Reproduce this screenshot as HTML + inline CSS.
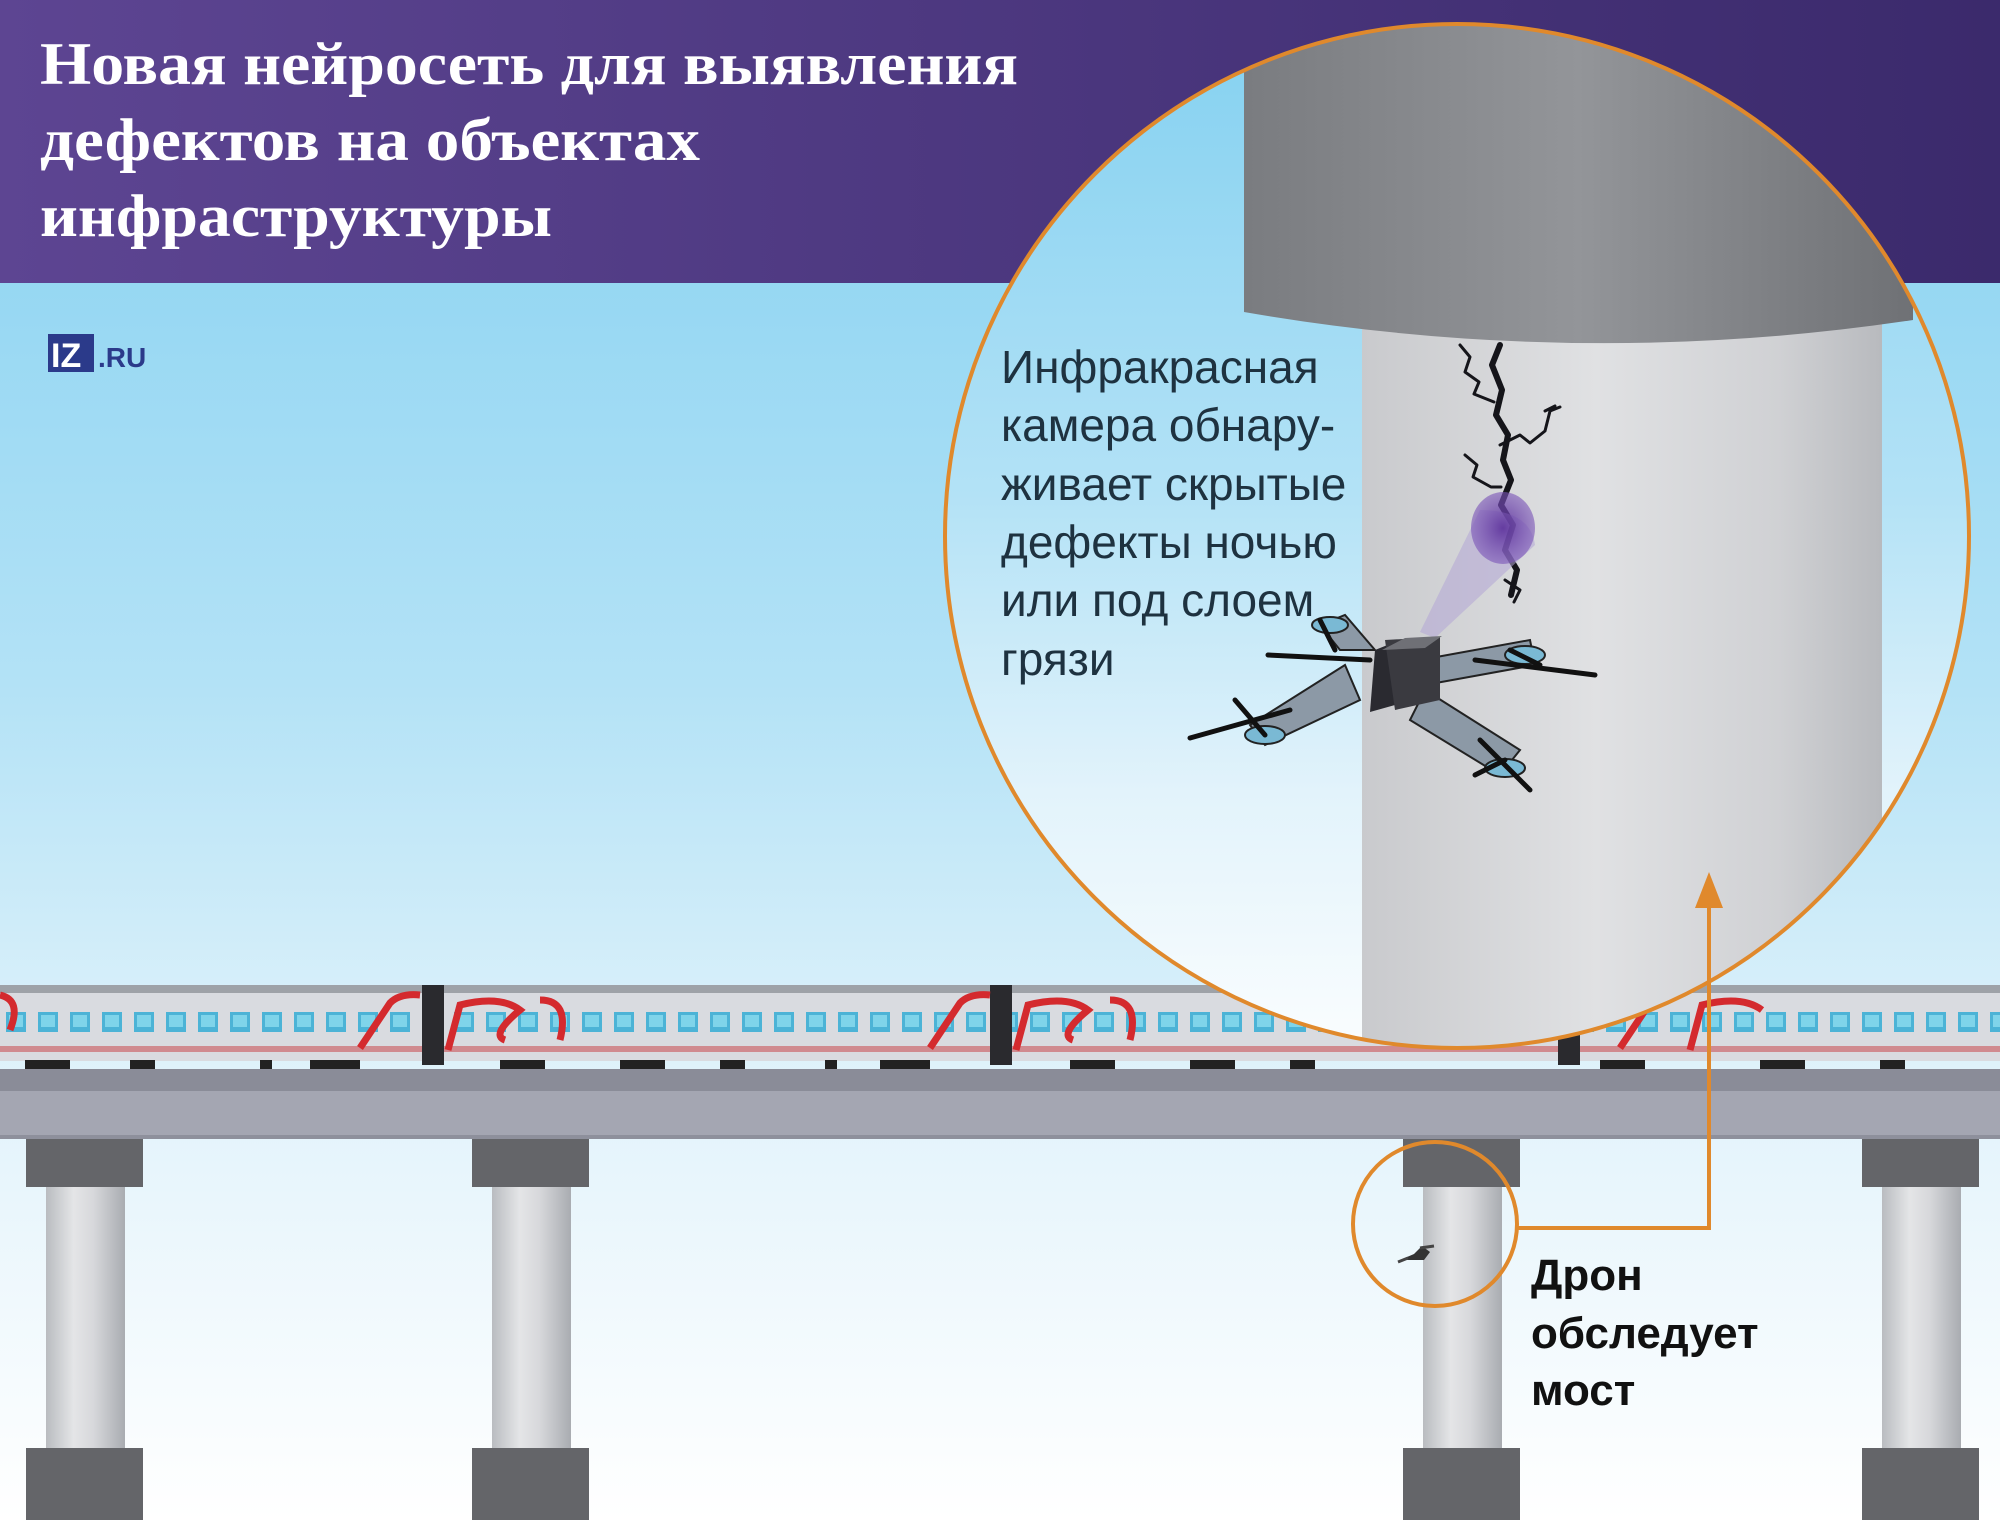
<!DOCTYPE html>
<html><head><meta charset="utf-8"><style>
html,body{margin:0;padding:0;width:2000px;height:1520px;overflow:hidden}
svg{display:block}
</style></head><body>
<svg width="2000" height="1520" viewBox="0 0 2000 1520" xmlns="http://www.w3.org/2000/svg">
<defs>
<linearGradient id="sky" x1="0" y1="0" x2="0" y2="1">
<stop offset="0" stop-color="#82d0f0"/><stop offset="0.45" stop-color="#b3e2f6"/><stop offset="0.72" stop-color="#e2f3fb"/><stop offset="1" stop-color="#ffffff"/></linearGradient>
<linearGradient id="hdr" x1="0" y1="0" x2="1" y2="0">
<stop offset="0" stop-color="#5d4592"/><stop offset="1" stop-color="#3b2a6c"/></linearGradient>
<linearGradient id="col" x1="0" y1="0" x2="1" y2="0">
<stop offset="0" stop-color="#b9bcc0"/><stop offset="0.35" stop-color="#e4e5e7"/><stop offset="0.6" stop-color="#d7d8db"/><stop offset="1" stop-color="#a9acb1"/></linearGradient>
<linearGradient id="bigcol" x1="0" y1="0" x2="1" y2="0">
<stop offset="0" stop-color="#c9cacd"/><stop offset="0.45" stop-color="#e0e1e3"/><stop offset="0.8" stop-color="#d0d1d4"/><stop offset="1" stop-color="#b8babe"/></linearGradient>
<linearGradient id="cap" x1="0" y1="0" x2="1" y2="0">
<stop offset="0" stop-color="#7a7c80"/><stop offset="0.5" stop-color="#939599"/><stop offset="1" stop-color="#6f7175"/></linearGradient>
<radialGradient id="beam" cx="0.5" cy="0.5" r="0.5"><stop offset="0" stop-color="#5a2e9a" stop-opacity="0.9"/><stop offset="1" stop-color="#7b55b8" stop-opacity="0.6"/></radialGradient>
<clipPath id="bigc"><circle cx="1457" cy="536" r="512"/></clipPath>
<clipPath id="smc"><circle cx="1435" cy="1224" r="82"/></clipPath>
<pattern id="win" x="0" y="1008" width="32" height="30" patternUnits="userSpaceOnUse">
<rect x="6" y="4" width="20" height="20" fill="#4cb3d6"/><rect x="9" y="7" width="14" height="12" fill="#7fd4ea"/></pattern>
</defs>

<rect width="2000" height="1520" fill="url(#sky)"/>
<rect width="2000" height="283" fill="url(#hdr)"/>
<g font-family="'Liberation Serif','DejaVu Serif',serif" font-weight="bold" font-size="60" fill="#ffffff">
<text x="40" y="84" textLength="978" lengthAdjust="spacingAndGlyphs">Новая нейросеть для выявления</text>
<text x="40" y="160" textLength="660" lengthAdjust="spacingAndGlyphs">дефектов на объектах</text>
<text x="40" y="236" textLength="512" lengthAdjust="spacingAndGlyphs">инфраструктуры</text>
</g>
<!-- logo -->
<rect x="48" y="334" width="46" height="38" fill="#2b3a8a"/>
<text x="51" y="367" font-family="'Liberation Sans',sans-serif" font-weight="bold" font-size="34" fill="#ffffff">IZ</text>
<text x="98" y="367" font-family="'Liberation Sans',sans-serif" font-weight="bold" font-size="28" fill="#2b3a8a">.RU</text>

<!-- train -->
<g>
<rect x="0" y="985" width="2000" height="76" fill="#d9dbe0"/>
<rect x="0" y="985" width="2000" height="8" fill="#9ea2a8"/>
<rect x="0" y="1008" width="2000" height="30" fill="url(#win)"/>
<rect x="0" y="1046" width="2000" height="6" fill="#c83a3e" opacity="0.5"/>
<rect x="422" y="985" width="22" height="80" fill="#2a2a2e"/>
<rect x="990" y="985" width="22" height="80" fill="#2a2a2e"/>
<rect x="1558" y="985" width="22" height="80" fill="#2a2a2e"/>
<g fill="none" stroke="#d42a2e" stroke-width="7">
<path d="M0 995 q22 5 10 35"/>
<path d="M360 1048 l30 -45 q10 -10 30 -8"/><path d="M448 1050 l12 -45 q40 -10 60 5 q-30 25 -15 30 M540 1000 q30 0 20 40"/>
<path d="M930 1048 l30 -45 q10 -10 30 -8"/><path d="M1016 1050 l12 -45 q40 -10 60 5 q-30 25 -15 30 M1110 1000 q30 0 20 40"/>
<path d="M1620 1048 l30 -45 q10 -10 30 -8"/><path d="M1690 1050 l12 -45 q40 -10 60 5"/>
</g>
<g fill="#222">
<rect x="25" y="1060" width="45" height="10"/><rect x="130" y="1060" width="25" height="10"/><rect x="260" y="1060" width="12" height="10"/><rect x="310" y="1060" width="50" height="10"/>
<rect x="500" y="1060" width="45" height="10"/><rect x="620" y="1060" width="45" height="10"/><rect x="720" y="1060" width="25" height="10"/><rect x="825" y="1060" width="12" height="10"/><rect x="880" y="1060" width="50" height="10"/>
<rect x="1070" y="1060" width="45" height="10"/><rect x="1190" y="1060" width="45" height="10"/><rect x="1290" y="1060" width="25" height="10"/><rect x="1600" y="1060" width="45" height="10"/><rect x="1760" y="1060" width="45" height="10"/><rect x="1880" y="1060" width="25" height="10"/>
</g>
</g>
<!-- deck -->
<rect x="0" y="1069" width="2000" height="22" fill="#8a8c98"/>
<rect x="0" y="1091" width="2000" height="48" fill="#a4a6b2"/>
<rect x="0" y="1135" width="2000" height="4" fill="#8e909c"/>

<!-- pillars -->
<g>
<g id="p1">
<rect x="26" y="1139" width="117" height="48" fill="#646569"/>
<rect x="46" y="1187" width="79" height="261" fill="url(#col)"/>
<rect x="26" y="1448" width="117" height="72" fill="#646569"/>
</g>
<use href="#p1" x="446"/>
<use href="#p1" x="1377"/>
<use href="#p1" x="1836"/>
</g>

<!-- small circle drone -->
<g clip-path="url(#smc)">
<path d="M1400 1260 l14 -6 l8 -8 l8 6 l-6 8 z" fill="#333"/>
<path d="M1398 1262 l10 -4 M1420 1248 l14 -2" stroke="#444" stroke-width="3"/>
</g>
<circle cx="1435" cy="1224" r="82" fill="none" stroke="#e0892c" stroke-width="4"/>

<g font-family="'Liberation Sans','DejaVu Sans',sans-serif" font-weight="bold" font-size="44" fill="#111">
<text x="1531" y="1290">Дрон</text>
<text x="1531" y="1348">обследует</text>
<text x="1531" y="1405">мост</text>
</g>

<!-- big circle content -->
<g clip-path="url(#bigc)">
<rect x="900" y="0" width="1100" height="1100" fill="url(#sky)"/>
<rect x="1362" y="300" width="520" height="800" fill="url(#bigcol)"/>
<path d="M1244 0 H1913 V320 Q1580 370 1244 312 Z" fill="url(#cap)"/>
<!-- crack -->
<g fill="none" stroke="#15151a" stroke-linecap="round" stroke-linejoin="round">
<path d="M1500 345 l-8 20 l10 25 l-6 25 l12 20 l-5 25 l8 20 l-10 25 l12 20 l-8 25 l12 20 l-6 25" stroke-width="6"/>
<path d="M1460 345 l10 12 l-5 15 l14 10 l-5 12 l20 8" stroke-width="3"/>
<path d="M1500 445 l20 -10 l10 8 l15 -12 l5 -20 l10 -4 M1545 411 l10 -5" stroke-width="3"/>
<path d="M1465 455 l12 10 l-4 12 l18 10 l10 0" stroke-width="3"/>
<path d="M1505 580 l15 10 l-6 12" stroke-width="3"/>
</g>
<!-- beam -->
<path d="M1420 632 L1480 510 Q1530 510 1535 545 L1435 638 Z" fill="#b3a5d6" opacity="0.55"/>
<ellipse cx="1503" cy="528" rx="32" ry="36" fill="url(#beam)"/>
<!-- drone -->
<g>
<path d="M1345 665 L1250 725 L1265 745 L1360 700 Z" fill="#8c99a6" stroke="#222" stroke-width="2"/>
<path d="M1425 690 L1520 750 L1500 775 L1410 720 Z" fill="#8c99a6" stroke="#222" stroke-width="2"/>
<path d="M1420 660 L1530 640 L1535 665 L1425 685 Z" fill="#8c99a6" stroke="#222" stroke-width="2"/>
<path d="M1340 650 L1320 625 L1345 615 L1375 650 Z" fill="#8c99a6" stroke="#222" stroke-width="2"/>
<path d="M1375 650 L1395 642 L1395 705 L1370 712 Z" fill="#2a2a30"/>
<path d="M1385 640 L1440 637 L1440 700 L1395 710 Z" fill="#3a3a40"/>
<path d="M1382 650 L1405 638 L1442 636 L1425 648 Z" fill="#6f7076"/>
<ellipse cx="1265" cy="735" rx="20" ry="9" fill="#7ab9d4" stroke="#222" stroke-width="2"/>
<ellipse cx="1505" cy="768" rx="20" ry="9" fill="#7ab9d4" stroke="#222" stroke-width="2"/>
<ellipse cx="1525" cy="655" rx="20" ry="9" fill="#7ab9d4" stroke="#222" stroke-width="2"/>
<ellipse cx="1330" cy="625" rx="18" ry="8" fill="#7ab9d4" stroke="#222" stroke-width="2"/>
<g stroke="#111" stroke-width="5" stroke-linecap="round">
<path d="M1190 738 L1290 710 M1235 700 L1265 735 M1480 740 L1530 790 M1505 760 L1475 775 M1475 660 L1595 675 M1510 650 L1540 665 M1268 655 L1370 660 M1320 620 L1335 650"/>
</g>
</g>
<g font-family="'Liberation Sans','DejaVu Sans',sans-serif" font-size="46" fill="#1e3240">
<text x="1001" y="383">Инфракрасная</text>
<text x="1001" y="441">камера обнару-</text>
<text x="1001" y="500">живает скрытые</text>
<text x="1001" y="558">дефекты ночью</text>
<text x="1001" y="616">или под слоем</text>
<text x="1001" y="675">грязи</text>
</g>
</g>
<circle cx="1457" cy="536" r="512" fill="none" stroke="#e0892c" stroke-width="4"/>

<!-- connector (on top) -->
<polyline points="1518,1228 1709,1228 1709,900" fill="none" stroke="#e0892c" stroke-width="4"/>
<polygon points="1709,872 1695,908 1723,908" fill="#e0892c"/>
</svg>
</body></html>
